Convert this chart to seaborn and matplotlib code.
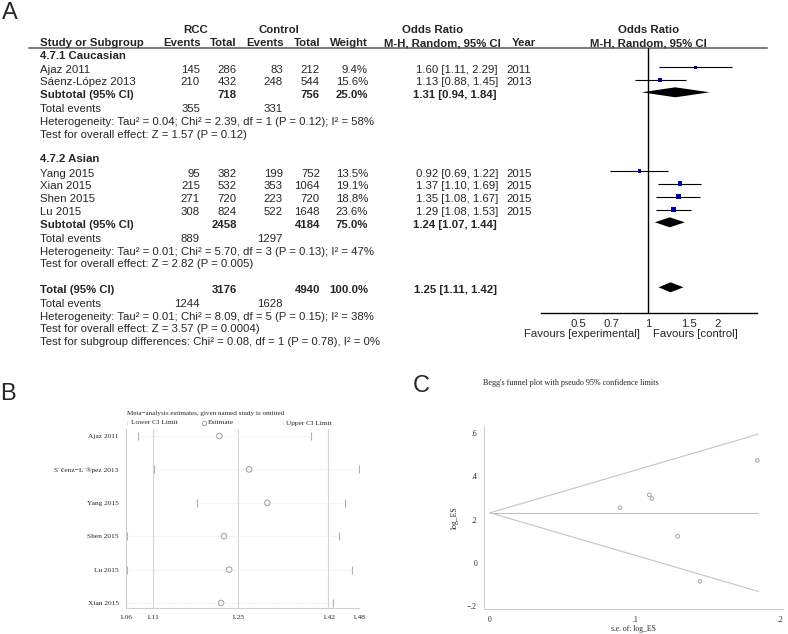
import matplotlib
matplotlib.use("Agg")
import matplotlib.pyplot as plt
import seaborn as sns

sns.set_style("white")
plt.rcParams['font.family'] = ['Liberation Sans', 'DejaVu Sans']
SERIF = ['Liberation Serif', 'DejaVu Serif']

W, H = 788, 634

# ---- Panel A: forest plot data ----
study = ["Ajaz 2011", "Sáenz-López 2013", "Yang 2015", "Xian 2015", "Shen 2015", "Lu 2015"]
rcc_events = [145, 210, 95, 215, 271, 308]
rcc_total = [286, 432, 382, 532, 720, 824]
ctrl_events = [83, 248, 199, 353, 223, 522]
ctrl_total = [212, 544, 752, 1064, 720, 1648]
weight = [9.4, 15.6, 13.5, 19.1, 18.8, 23.6]
or_est = [1.60, 1.13, 0.92, 1.37, 1.35, 1.29]
or_lo = [1.11, 0.88, 0.69, 1.10, 1.08, 1.08]
or_hi = [2.29, 1.45, 1.22, 1.69, 1.67, 1.53]
year = [2011, 2013, 2015, 2015, 2015, 2015]

group_names = ["4.7.1 Caucasian", "4.7.2 Asian"]
sub_labels = ["Subtotal (95% CI)", "Subtotal (95% CI)", "Total (95% CI)"]
sub_rcc_total = [718, 2458, 3176]
sub_ctrl_total = [756, 4184, 4940]
sub_weight = [25.0, 75.0, 100.0]
sub_or = [1.31, 1.24, 1.25]
sub_lo = [0.94, 1.07, 1.11]
sub_hi = [1.84, 1.44, 1.42]
sub_rcc_events = [355, 889, 1244]
sub_ctrl_events = [331, 1297, 1628]
heterogeneity = [
    "Heterogeneity: Tau² = 0.04; Chi² = 2.39, df = 1 (P = 0.12); I² = 58%",
    "Heterogeneity: Tau² = 0.01; Chi² = 5.70, df = 3 (P = 0.13); I² = 47%",
    "Heterogeneity: Tau² = 0.01; Chi² = 8.09, df = 5 (P = 0.15); I² = 38%",
]
overall_effect = [
    "Test for overall effect: Z = 1.57 (P = 0.12)",
    "Test for overall effect: Z = 2.82 (P = 0.005)",
    "Test for overall effect: Z = 3.57 (P = 0.0004)",
]
subgroup_diff = "Test for subgroup differences: Chi² = 0.08, df = 1 (P = 0.78), I² = 0%"
or_ticks = [0.5, 0.7, 1, 1.5, 2]
or_ticklabels = ["0.5", "0.7", "1", "1.5", "2"]

# ---- Panel B: leave-one-out sensitivity ----
loo_study = ["Ajaz 2011", "S¨¢enz−L¨®pez 2013", "Yang 2015", "Shen 2015", "Lu 2015", "Xian 2015"]
loo_est = [1.214, 1.266, 1.299, 1.222, 1.231, 1.217]
loo_lo = [1.083, 1.107, 1.177, 1.066, 1.066, 1.064]
loo_hi = [1.382, 1.478, 1.450, 1.436, 1.464, 1.424]
loo_ticks = [1.0637, 1.1057, 1.2457, 1.4158, 1.478]
loo_ticklabels = ["1.06", "1.11", "1.25", "1.42", "1.48"]
loo_refs = [1.1057, 1.2457, 1.4158]

# ---- Panel C: Begg's funnel plot ----
se_logES = [0.0897, 0.1099, 0.1117, 0.1294, 0.1448, 0.1844]
logES = [0.255, 0.315, 0.298, 0.123, -0.085, 0.474]
funnel_se = [0, 0.185]
funnel_upper = [0.232, 0.595]
funnel_lower = [0.232, -0.131]
funnel_mid = [0.232, 0.232]

fig = plt.figure(figsize=(W / 100, H / 100), dpi=100)

def px_axes(x0, y0, x1, y1):
    ax = fig.add_axes([x0 / W, 1 - y1 / H, (x1 - x0) / W, (y1 - y0) / H])
    ax.set_facecolor('none')
    return ax

ov = px_axes(0, 0, W, H)
ov.set_xlim(0, W)
ov.set_ylim(H, 0)
ov.axis('off')

FS = 8.2

def t(x, y, s, ha='left', bold=False, size=FS, **kw):
    ov.text(x, y, s, ha=ha, va='center', fontsize=size,
            fontweight='bold' if bold else 'normal', **kw)

# panel letters
t(2, 13, "A", size=17)
t(0, 394, "B", size=17)
t(413, 386, "C", size=17)

# header
t(196, 30, "RCC", 'center', True)
t(279, 30, "Control", 'center', True)
t(433, 30, "Odds Ratio", 'center', True)
t(649, 30, "Odds Ratio", 'center', True)
t(40, 43, "Study or Subgroup", bold=True)
t(201, 43, "Events", 'right', True)
t(237, 43, "Total", 'right', True)
t(284, 43, "Events", 'right', True)
t(321, 43, "Total", 'right', True)
t(368, 43, "Weight", 'right', True)
t(384, 43, "M-H, Random, 95% CI", bold=True)
t(512, 43, "Year", bold=True)
t(648, 43, "M-H, Random, 95% CI", 'center', True)
ov.plot([29, 767], [48, 48], color='#7f7f7f', lw=1.5)

# rows
group_rows = [56, 159.5]
study_rows = [70, 82.3, 174, 186.3, 199.3, 212.3]
sub_rows = [95, 225, 290]
events_rows = [108.7, 239, 304]
het_rows = [121.7, 252, 316.7]
test_rows = [135, 264.3, 329.3]

for g, y in zip(group_names, group_rows):
    t(40, y, g, bold=True)

for i, y in enumerate(study_rows):
    t(40, y, study[i])
    t(200, y, str(rcc_events[i]), 'right')
    t(237, y, str(rcc_total[i]), 'right')
    t(283, y, str(ctrl_events[i]), 'right')
    t(320, y, str(ctrl_total[i]), 'right')
    t(368, y, f"{weight[i]:.1f}%", 'right')
    t(498, y, f"{or_est[i]:.2f} [{or_lo[i]:.2f}, {or_hi[i]:.2f}]", 'right')
    t(506, y, str(year[i]))

for i in range(3):
    t(40, sub_rows[i], sub_labels[i], bold=True)
    t(237, sub_rows[i], str(sub_rcc_total[i]), 'right', True)
    t(320, sub_rows[i], str(sub_ctrl_total[i]), 'right', True)
    t(368, sub_rows[i], f"{sub_weight[i]:.1f}%", 'right', True)
    t(497, sub_rows[i], f"{sub_or[i]:.2f} [{sub_lo[i]:.2f}, {sub_hi[i]:.2f}]", 'right', True)
    t(40, events_rows[i], "Total events")
    t(200, events_rows[i], str(sub_rcc_events[i]), 'right')
    t(283, events_rows[i], str(sub_ctrl_events[i]), 'right')
    t(40, het_rows[i], heterogeneity[i])
    t(40, test_rows[i], overall_effect[i])
t(40, 342.3, subgroup_diff)

# forest axes
axf = px_axes(541, 48, 757, 313)
axf.set_xscale('log')
axf.set_xlim(0.347, 2.94)
axf.set_ylim(313, 48)
off = -2.7
ys = [y + off for y in study_rows]
axf.hlines(ys, or_lo, or_hi, color='black', lw=0.8)
sns.scatterplot(x=or_est, y=ys, size=weight, sizes=(5, 13), marker='s',
                color='#0000a8', edgecolor='none', legend=False, ax=axf, zorder=3)
for i in range(3):
    yc = sub_rows[i] + off
    axf.fill([sub_lo[i], sub_or[i], sub_hi[i], sub_or[i]],
             [yc, yc - 5, yc, yc + 5], color='black', lw=0)
axf.axvline(1, color='black', lw=1)
for s in ['top', 'right', 'left']:
    axf.spines[s].set_visible(False)
axf.spines['bottom'].set_color('black')
axf.spines['bottom'].set_linewidth(1)
axf.minorticks_off()
axf.set_xticks(or_ticks)
axf.set_xticklabels(or_ticklabels)
axf.set_yticks([])
axf.tick_params(axis='x', direction='in', length=4, width=0.8, labelsize=FS, pad=4)
t(640, 334, "Favours [experimental]", 'right')
t(653, 334, "Favours [control]")

# panel B
axb = px_axes(125.5, 429, 359, 608)
axb.set_xscale('log')
rows_b = list(range(len(loo_study)))
for r in loo_refs:
    axb.axvline(r, color='#d4d4d4', lw=0.8, zorder=0)
axb.hlines(rows_b, loo_lo, loo_hi, color='#e2e2e2', lw=0.6, linestyles=':')
sns.scatterplot(x=loo_lo, y=rows_b, marker='|', s=30, color='#b0b0b0',
                linewidth=0.8, ax=axb)
sns.scatterplot(x=loo_hi, y=rows_b, marker='|', s=30, color='#b0b0b0',
                linewidth=0.8, ax=axb)
sns.scatterplot(x=loo_est, y=rows_b, marker='o', s=16, facecolor='none',
                edgecolor='#9a9a9a', linewidth=0.7, ax=axb)
axb.set_xlim(loo_ticks[0], loo_ticks[-1])
axb.set_ylim(5.15, -0.21)
axb.minorticks_off()
axb.set_xticks(loo_ticks)
axb.set_xticklabels(loo_ticklabels, fontfamily=SERIF, fontsize=5.3)
axb.set_yticks(rows_b)
axb.set_yticklabels(loo_study, fontfamily=SERIF, fontsize=5.3)
for s in ['top', 'right']:
    axb.spines[s].set_visible(False)
for s in ['left', 'bottom']:
    axb.spines[s].set_color('#cfcfcf')
    axb.spines[s].set_linewidth(0.8)
axb.tick_params(axis='x', direction='out', length=3, width=0.6, color='#bbbbbb', pad=2)
axb.tick_params(axis='y', direction='out', length=2, width=0.6, color='#bbbbbb', pad=3)
t(127, 413, "Meta−analysis estimates, given named study is omitted", size=5.1, family=SERIF)
t(126.5, 423, "|", size=5, color='#b0b0b0', family=SERIF)
t(130.7, 423, "Lower CI Limit", size=5.3, family=SERIF)
ov.plot([204.5], [423], marker='o', ms=3.2, mfc='none', mec='#9a9a9a', mew=0.6)
t(207.7, 423, "Estimate", size=5.3, family=SERIF)
t(282.5, 423, "|", size=5, color='#b0b0b0', family=SERIF)
t(286, 423, "Upper CI Limit", size=5.3, family=SERIF)

# panel C
axc = px_axes(484, 426, 783, 609)
for yv in [funnel_upper, funnel_lower, funnel_mid]:
    sns.lineplot(x=funnel_se, y=yv, color='#c4c4c4', lw=0.8, ax=axc)
sns.scatterplot(x=se_logES, y=logES, marker='o', s=7, facecolor='none',
                edgecolor='#9a9a9a', linewidth=0.6, ax=axc)
axc.set_xlim(-0.00414, 0.2021)
axc.set_ylim(-0.2125, 0.633)
axc.set_xticks([0, 0.1, 0.2])
axc.set_xticklabels(["0", ".1", ".2"], fontfamily=SERIF, fontsize=5.5)
axc.set_yticks([-0.2, 0, 0.2, 0.4, 0.6])
axc.set_yticklabels(["−.2", "0", ".2", ".4", ".6"], fontfamily=SERIF, fontsize=5.5)
for s in ['top', 'right']:
    axc.spines[s].set_visible(False)
for s in ['left', 'bottom']:
    axc.spines[s].set_color('#cfcfcf')
    axc.spines[s].set_linewidth(0.8)
axc.tick_params(direction='out', length=3, width=0.6, color='#bbbbbb', pad=2)
axc.set_xlabel("s.e. of: log_ES", fontfamily=SERIF, fontsize=5.5, labelpad=1)
axc.set_ylabel("log_ES", fontfamily=SERIF, fontsize=5.5, labelpad=6)
t(483, 383, "Begg's funnel plot with pseudo 95% confidence limits", size=5.85, family=SERIF)

fig.savefig("out.png", dpi=100)
